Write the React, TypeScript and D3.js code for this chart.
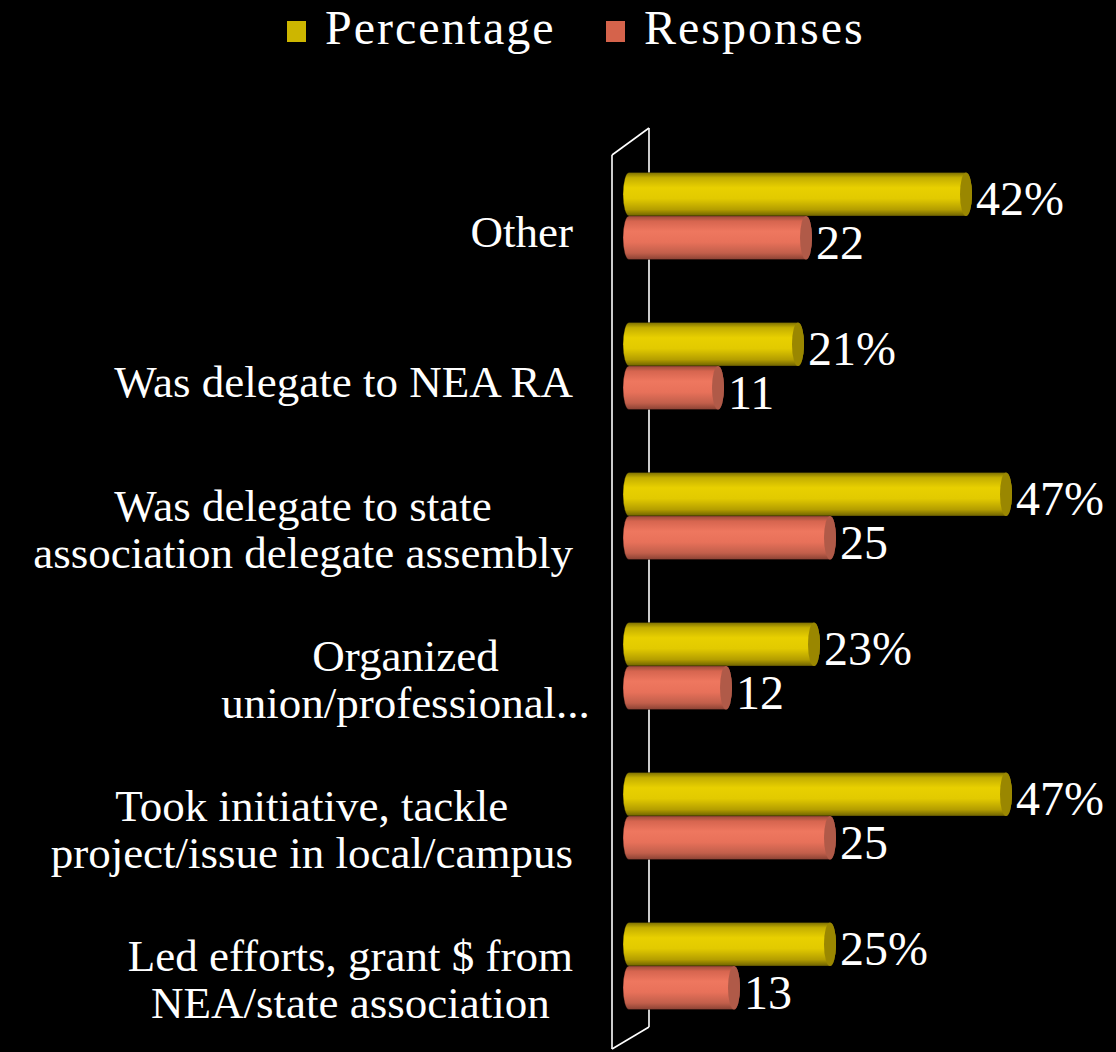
import React, { useEffect, useRef } from "react";
import * as d3 from "d3";

const categories = [
  "Other",
  "Was delegate to NEA RA",
  "Was delegate to state\nassociation delegate assembly",
  "Organized\nunion/professional...",
  "Took initiative, tackle\nproject/issue in local/campus",
  "Led efforts, grant $ from\nNEA/state association",
];
const seriesNames = ["Percentage", "Responses"];
const percentage = [42, 21, 47, 23, 47, 25];
const responses = [22, 11, 25, 12, 25, 13];

const W = 1116;
const H = 1052;
const FONT = "'Liberation Serif', 'Times New Roman', serif";

const palette: Record<string, { stops: [number, string][]; cap: string; legend: string }> = {
  Percentage: {
    stops: [
      [0, "#7e7000"],
      [0.12, "#c4ae00"],
      [0.35, "#e8d000"],
      [0.6, "#e2ca00"],
      [0.85, "#b49e00"],
      [1, "#6e6200"],
    ],
    cap: "#9a8700",
    legend: "#cdb600",
  },
  Responses: {
    stops: [
      [0, "#9a4a3a"],
      [0.12, "#d6654f"],
      [0.35, "#ee775f"],
      [0.6, "#e8715a"],
      [0.85, "#c25f4b"],
      [1, "#8a4234"],
    ],
    cap: "#b05a48",
    legend: "#d5634b",
  },
};

const cylinder = (x0: number, x1: number, y0: number, h: number, rx: number) => {
  const ry = h / 2;
  return `M${x0 + rx},${y0} L${x1 - rx},${y0} A${rx},${ry} 0 0 1 ${x1 - rx},${y0 + h} L${x0 + rx},${y0 + h} A${rx},${ry} 0 0 1 ${x0 + rx},${y0} Z`;
};

const App: React.FC = () => {
  const svgRef = useRef<SVGSVGElement>(null);

  useEffect(() => {
    if (!svgRef.current) return;
    document.body.style.margin = "0";
    document.body.style.background = "#000";

    const svg = d3.select(svgRef.current);
    svg.selectAll("*").remove();

    svg.append("rect").attr("width", W).attr("height", H).attr("fill", "#000");

    const defs = svg.append("defs");
    seriesNames.forEach((s) => {
      const g = defs
        .append("linearGradient")
        .attr("id", `grad-${s}`)
        .attr("x1", 0)
        .attr("y1", 0)
        .attr("x2", 0)
        .attr("y2", 1);
      palette[s].stops.forEach(([o, c]) => {
        g.append("stop").attr("offset", o).attr("stop-color", c);
      });
    });

    const x = d3.scaleLinear().domain([0, 50]).range([636, 1036]);
    const y = d3
      .scaleBand<string>()
      .domain(categories)
      .range([141, 1041])
      .paddingInner(0.42)
      .paddingOuter(0.21);
    const y1 = d3
      .scaleBand<string>()
      .domain(seriesNames)
      .range([0, y.bandwidth()]);

    const values: Record<string, number[]> = {
      Percentage: percentage,
      Responses: responses,
    };

    // 3d wall, back edge sits behind the bars
    const backX = x(0) + 13;
    const frontX = x(0) - 24;
    svg
      .append("line")
      .attr("x1", backX)
      .attr("x2", backX)
      .attr("y1", 128)
      .attr("y2", 1027)
      .attr("stroke", "#fff")
      .attr("stroke-width", 1.6);

    const barLeft = x(0) - 13;
    const rx = 6;
    categories.forEach((c, i) => {
      seriesNames.forEach((s) => {
        const v = values[s][i];
        const y0 = (y(c) as number) + (y1(s) as number);
        const h = y1.bandwidth();
        const x1 = x(v);
        svg
          .append("path")
          .attr("d", cylinder(barLeft, x1, y0, h, rx))
          .attr("fill", `url(#grad-${s})`)
          .attr("stroke", "rgba(0,0,0,0.35)")
          .attr("stroke-width", 0.8);
        svg
          .append("ellipse")
          .attr("cx", x1 - rx)
          .attr("cy", y0 + h / 2)
          .attr("rx", rx)
          .attr("ry", h / 2)
          .attr("fill", palette[s].cap);

        svg
          .append("text")
          .attr("x", x1 + 4)
          .attr("y", y0 + h - 1)
          .attr("font-family", FONT)
          .attr("font-size", 48)
          .attr("fill", "#fff")
          .text(s === "Percentage" ? `${v}%` : `${v}`);
      });
    });

    const wall = svg
      .append("g")
      .attr("stroke", "#fff")
      .attr("stroke-width", 1.6)
      .attr("fill", "none");
    wall.append("line").attr("x1", frontX).attr("x2", frontX).attr("y1", 155).attr("y2", 1049);
    wall.append("line").attr("x1", frontX).attr("x2", backX).attr("y1", 155).attr("y2", 128);
    wall.append("line").attr("x1", backX).attr("x2", frontX).attr("y1", 1027).attr("y2", 1049);

    // category labels: lines centred on each other, block right aligned
    const labelRight = 573;
    const lineH = 47;
    categories.forEach((c) => {
      const lines = c.split("\n");
      const cy = (y(c) as number) + y.bandwidth() / 2;
      const probe = svg
        .append("text")
        .attr("font-family", FONT)
        .attr("font-size", 45);
      const widths = lines.map((l) => {
        probe.text(l.replace(/\.\.\.$/, ""));
        return (probe.node() as SVGTextElement).getComputedTextLength();
      });
      probe.remove();
      const maxW = d3.max(widths) as number;
      const cx = labelRight - maxW / 2;
      const first = cy + 31 - (lines.length - 1) * 26;
      lines.forEach((l, j) => {
        svg
          .append("text")
          .attr("x", cx)
          .attr("y", first + j * lineH)
          .attr("font-family", FONT)
          .attr("font-size", 45)
          .attr("fill", "#fff")
          .attr("text-anchor", "middle")
          .text(l);
      });
    });

    // legend
    const legendX = [287, 606];
    seriesNames.forEach((s, i) => {
      svg
        .append("rect")
        .attr("x", legendX[i])
        .attr("y", 21)
        .attr("width", 19)
        .attr("height", 21)
        .attr("fill", palette[s].legend);
      svg
        .append("text")
        .attr("x", legendX[i] + 38)
        .attr("y", 44)
        .attr("font-family", FONT)
        .attr("font-size", 48)
        .attr("letter-spacing", 2)
        .attr("fill", "#fff")
        .text(s);
    });
  }, []);

  return <svg ref={svgRef} width={W} height={H} style={{ display: "block" }} />;
};

export default App;
